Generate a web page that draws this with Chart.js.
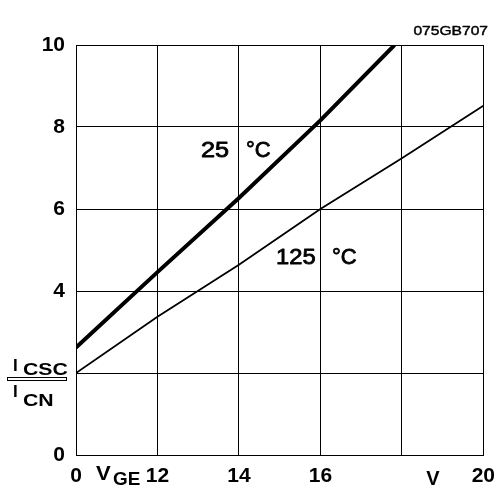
<!DOCTYPE html>
<html>
<head>
<meta charset="utf-8">
<script src="https://cdn.jsdelivr.net/npm/chart.js@4/dist/chart.umd.min.js"></script>
<style>
  html, body { margin: 0; padding: 0; background: #fff; }
  #wrap { width: 504px; height: 488px; }
</style>
</head>
<body>
<div id="wrap"><canvas id="c" width="504" height="488"></canvas></div>
<script>
// Short-circuit current ratio I_CSC / I_CN versus gate voltage V_GE
const vge25 = [10, 12, 14, 16, 17.82];
const ratio25 = [2.62, 4.46, 6.27, 8.16, 10];
const vge125 = [10, 12, 14, 16, 18, 20];
const ratio125 = [2.0, 3.37, 4.64, 6.0, 7.24, 8.52];

const xTickValues = [10, 12, 14, 16, 18, 20];
const xTickLabels = ['0', '12', '14', '16', '', '20'];
const yTickValues = [0, 2, 4, 6, 8, 10];
const yTickLabels = ['0', '', '4', '6', '8', '10'];

const curveNames = ['25 °C', '125 °C'];
const figureCode = '075GB707';

const FONT = "'Liberation Sans', Arial, Helvetica, sans-serif";

function toPoints(xs, ys) {
  return xs.map((x, i) => ({ x: x, y: ys[i] }));
}

// Draws text with an optional horizontal stretch and stroke thickening
function stretchedText(ctx, text, x, y, font, sx, align, thicken) {
  ctx.save();
  ctx.font = font;
  ctx.textBaseline = 'alphabetic';
  const w = ctx.measureText(text).width * sx;
  let left = x;
  if (align === 'center') left = x - w / 2;
  else if (align === 'right') left = x - w;
  ctx.translate(left, y);
  ctx.scale(sx, 1);
  ctx.textAlign = 'left';
  ctx.fillText(text, 0, 0);
  if (thicken) {
    ctx.lineWidth = thicken;
    ctx.lineJoin = 'round';
    ctx.strokeText(text, 0, 0);
  }
  ctx.restore();
  return w;
}

const annotations = {
  id: 'annotations',
  afterDraw(chart) {
    const ctx = chart.ctx;
    ctx.save();
    ctx.fillStyle = '#000';
    ctx.strokeStyle = '#000';

    // figure code, top right
    stretchedText(ctx, figureCode, 488, 35, '12px ' + FONT, 1.3, 'right', 0.4);

    // curve labels
    stretchedText(ctx, '25', 201, 157, '22px ' + FONT, 1.15, 'left', 0.8);
    stretchedText(ctx, '°C', 246, 157, '22px ' + FONT, 1.0, 'left', 0.8);
    stretchedText(ctx, '125', 276, 264, '22px ' + FONT, 1.08, 'left', 0.8);
    stretchedText(ctx, '°C', 332, 264, '22px ' + FONT, 1.0, 'left', 0.8);

    // x axis quantity and unit
    const base = 485;
    stretchedText(ctx, 'V', 96, 480, 'bold 21px ' + FONT, 1.05, 'left');
    stretchedText(ctx, 'GE', 113, base, 'bold 18px ' + FONT, 1.05, 'left');
    stretchedText(ctx, 'V', 433, base, 'bold 20px ' + FONT, 1.0, 'center');

    // y axis quantity as a fraction
    stretchedText(ctx, 'I', 13, 371, 'bold 17px ' + FONT, 1.0, 'left');
    stretchedText(ctx, 'CSC', 23, 375, 'bold 17px ' + FONT, 1.25, 'left');
    ctx.lineWidth = 1;
    ctx.strokeRect(7.5, 377.5, 59, 3);
    stretchedText(ctx, 'I', 13, 397, 'bold 17px ' + FONT, 1.0, 'left');
    stretchedText(ctx, 'CN', 23, 406, 'bold 17px ' + FONT, 1.25, 'left');
    ctx.restore();
  }
};

new Chart(document.getElementById('c'), {
  type: 'scatter',
  data: {
    datasets: [
      {
        label: curveNames[0],
        data: toPoints(vge25, ratio25),
        showLine: true,
        borderColor: '#000',
        borderWidth: 4,
        pointRadius: 0,
        tension: 0
      },
      {
        label: curveNames[1],
        data: toPoints(vge125, ratio125),
        showLine: true,
        borderColor: '#000',
        borderWidth: 1.8,
        pointRadius: 0,
        tension: 0
      }
    ]
  },
  options: {
    responsive: false,
    animation: false,
    devicePixelRatio: 1,
    layout: { padding: { left: 0, right: 18, top: 45, bottom: 0 } },
    plugins: {
      legend: { display: false },
      tooltip: { enabled: false }
    },
    scales: {
      x: {
        type: 'linear',
        min: 10,
        max: 20,
        afterBuildTicks(scale) { scale.ticks = xTickValues.map(v => ({ value: v })); },
        afterFit(scale) { scale.height = 33; },
        ticks: {
          autoSkip: false,
          maxRotation: 0,
          padding: 9,
          color: '#000',
          font: { family: FONT, size: 21, weight: 'bold' },
          callback: (v) => { const i = xTickValues.indexOf(v); return i >= 0 ? xTickLabels[i] : ''; }
        },
        grid: { color: '#000', lineWidth: 1, drawTicks: false },
        border: { color: '#000', width: 1 }
      },
      y: {
        type: 'linear',
        min: 0,
        max: 10,
        afterBuildTicks(scale) { scale.ticks = yTickValues.map(v => ({ value: v })); },
        afterFit(scale) { scale.width = 76; },
        ticks: {
          autoSkip: false,
          padding: 11,
          color: '#000',
          font: { family: FONT, size: 21, weight: 'bold' },
          callback: (v) => { const i = yTickValues.indexOf(v); return i >= 0 ? yTickLabels[i] : ''; }
        },
        grid: { color: '#000', lineWidth: 1, drawTicks: false },
        border: { color: '#000', width: 1 }
      }
    }
  },
  plugins: [annotations]
});
</script>
</body>
</html>
